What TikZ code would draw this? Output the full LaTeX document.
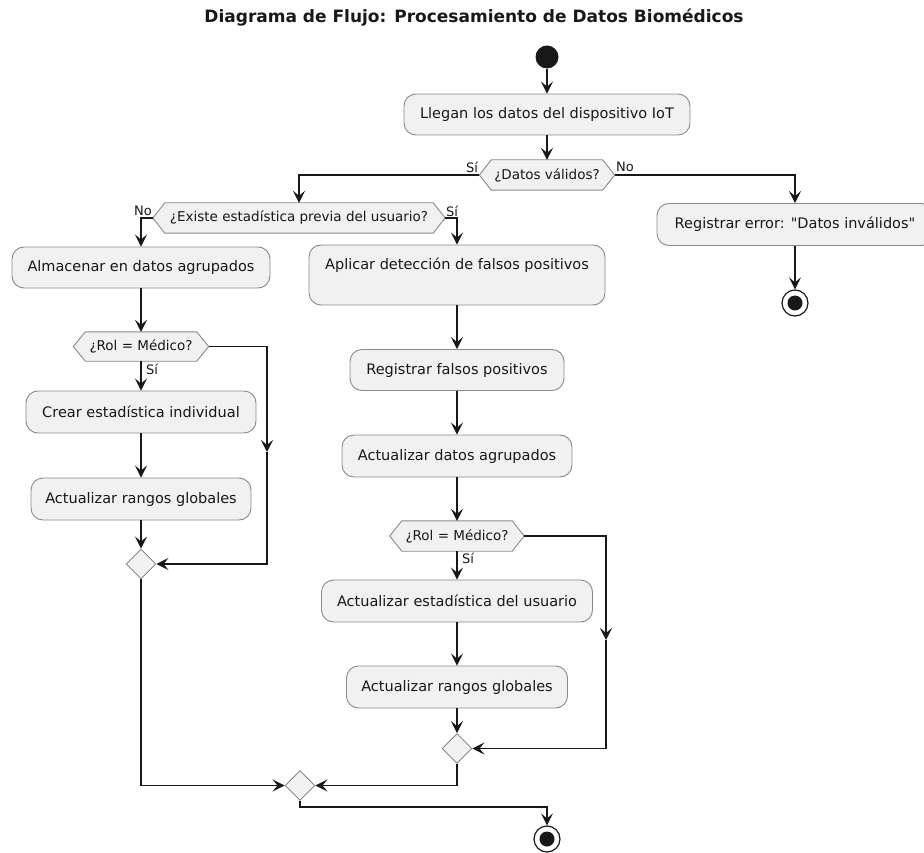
\documentclass[tikz,border=0pt]{standalone}
\usepackage{fontspec}
\setmainfont{DejaVu Sans}[Ligatures=TeXOff]
\usetikzlibrary{arrows.meta,calc,shapes.geometric}
\pgfdeclarelayer{paper}
\pgfdeclarelayer{bg}
\pgfsetlayers{paper,bg,main}
\definecolor{boxfill}{HTML}{F1F1F1}
\definecolor{ink}{HTML}{181818}
\definecolor{rim}{HTML}{8A8A8A}
\tikzset{
  act/.style={draw=rim, fill=boxfill, rounded corners=12pt, line width=0.9pt,
    font=\fontsize{14.5}{17}\selectfont, text=ink, inner sep=0pt, align=center},
  hex/.style={inner sep=0pt, font=\fontsize{13.5}{16}\selectfont, text=ink},
  hexshape/.style={draw=rim, fill=boxfill, line width=0.9pt},
  merge/.style={diamond, draw=rim, fill=boxfill, line width=0.9pt, inner sep=0pt,
    minimum width=30pt, minimum height=30pt},
  startdot/.style={circle, fill=ink, inner sep=0pt, minimum size=23pt},
  enddot/.style={circle, draw=ink, fill=white, line width=1.2pt, inner sep=0pt,
    minimum size=26pt, path picture={\fill[ink] (path picture bounding box.center) circle (7.5pt);}},
  flow/.style={draw=ink, line width=1.1pt, -{Stealth[length=12pt, width=12pt, inset=5pt]}},
  lbl/.style={font=\fontsize{13}{15}\selectfont, text=ink, inner sep=0pt},
}
\begin{document}
\begin{tikzpicture}[x=1pt, y=-1pt]
\begin{pgfonlayer}{paper}
  \fill[white] (0,0) rectangle (924,853);
\end{pgfonlayer}
\useasboundingbox (0,0) rectangle (924,853);

% title
\node[font=\bfseries\fontsize{17}{20}\selectfont, text=ink] (title) at (474,18)
  {Diagrama de Flujo: Procesamiento de Datos Biomédicos};

% start / end
\node[startdot] (st) at (547,57) {};
\node[enddot] (end1) at (795,303) {};
\node[enddot] (end2) at (547,839) {};

% activities
\node[act, minimum width=286pt, minimum height=41pt] (b1) at (547,114.5) {Llegan los datos del dispositivo IoT};
\node[act, minimum width=276pt, minimum height=42pt] (regerr) at (795,224.5) {Registrar error: "Datos inválidos"};
\node[act, minimum width=258pt, minimum height=41pt] (almac) at (141,267.5) {Almacenar en datos agrupados};
\node[act, minimum width=296pt, minimum height=60pt] (aplic) at (457,275) {Aplicar detección de falsos positivos\\ \strut};
\node[act, minimum width=230pt, minimum height=42pt] (crear) at (141,412) {Crear estadística individual};
\node[act, minimum width=220pt, minimum height=42pt] (actr1) at (141,499) {Actualizar rangos globales};
\node[act, minimum width=214pt, minimum height=41pt] (regfp) at (457,370) {Registrar falsos positivos};
\node[act, minimum width=230pt, minimum height=42pt] (actdat) at (457,456) {Actualizar datos agrupados};
\node[act, minimum width=271pt, minimum height=42pt] (actest) at (457,601) {Actualizar estadística del usuario};
\node[act, minimum width=221pt, minimum height=42pt] (actr2) at (457,687) {Actualizar rangos globales};

% decisions: text nodes framed by hexagons drawn underneath
\node[hex, minimum width=135pt, minimum height=30pt] (h1) at (547,175) {¿Datos válidos?};
\node[hex, minimum width=292pt, minimum height=30pt] (h2) at (299,218) {¿Existe estadística previa del usuario?};
\node[hex, minimum width=135pt, minimum height=29pt] (h3) at (141,346.5) {¿Rol = Médico?};
\node[hex, minimum width=134pt, minimum height=30pt] (h4) at (457,536) {¿Rol = Médico?};
\begin{pgfonlayer}{bg}
  \foreach \h in {h1,h2,h3,h4}
    \draw[hexshape] (\h.west) -- ([xshift=12pt]\h.north west) -- ([xshift=-12pt]\h.north east)
      -- (\h.east) -- ([xshift=-12pt]\h.south east) -- ([xshift=12pt]\h.south west) -- cycle;
\end{pgfonlayer}

% merge points
\node[merge] (m1) at (141,564) {};
\node[merge] (m2) at (457,748.5) {};
\node[merge] (fin) at (300,785.5) {};

% bends of the "no" paths
\coordinate (k1) at (267,346.5);
\coordinate (k1m) at (267,452);
\coordinate (k2) at (267,564);
\coordinate (k3) at (606,536);
\coordinate (k3m) at (606,640);
\coordinate (k4) at (606,748.5);
\coordinate (k5) at (300,807);

% connectors
\draw[flow] (st) -- (b1);
\draw[flow] (b1) -- (h1);
\draw[flow] (h1.west) -| (h2.north);
\draw[flow] (h1.east) -| (regerr.north);
\draw[flow] (regerr) -- (end1);
\draw[flow] (h2.west) -| (almac.north);
\draw[flow] (h2.east) -| (aplic.north);

\draw[flow] (almac) -- (h3);
\draw[flow] (h3) -- (crear);
\draw[flow] (crear) -- (actr1);
\draw[flow] (actr1) -- (m1);
\draw[flow] (h3.east) -- (k1) -- (k1m);
\draw[flow] (k1m) -- (k2) -- (m1.east);

\draw[flow] (aplic) -- (regfp);
\draw[flow] (regfp) -- (actdat);
\draw[flow] (actdat) -- (h4);
\draw[flow] (h4) -- (actest);
\draw[flow] (actest) -- (actr2);
\draw[flow] (actr2) -- (m2);
\draw[flow] (h4.east) -- (k3) -- (k3m);
\draw[flow] (k3m) -- (k4) -- (m2.east);

\draw[flow] (m1.south) |- (fin.west);
\draw[flow] (m2.south) |- (fin.east);
\draw[flow] (fin.south) -- (k5) -| (end2.north);

% branch labels
\node[lbl] (l1) at (472,167) {Sí};
\node[lbl] (l2) at (625,167) {No};
\node[lbl] (l3) at (143,211) {No};
\node[lbl] (l4) at (452,211) {Sí};
\node[lbl] (l5) at (152,369) {Sí};
\node[lbl] (l6) at (468,558) {Sí};
\end{tikzpicture}
\end{document}
